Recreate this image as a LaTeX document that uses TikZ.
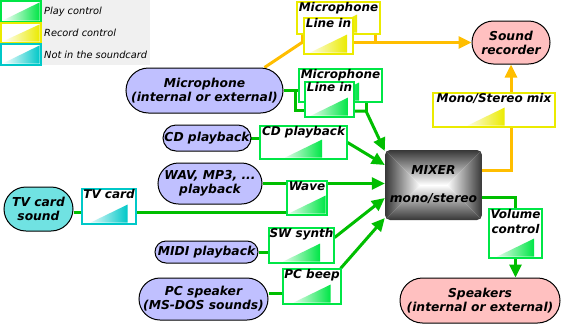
\documentclass[tikz,border=0pt]{standalone}
\usepackage{fontspec}
\setmainfont{DejaVu Sans}
\usetikzlibrary{arrows.meta,fit,calc,shapes.misc,backgrounds}
\definecolor{gline}{RGB}{0,190,0}
\definecolor{oline}{RGB}{255,190,0}
\definecolor{gbox}{RGB}{0,230,70}
\definecolor{ybox}{RGB}{235,235,0}
\definecolor{cbox}{RGB}{0,200,200}
\definecolor{lav}{RGB}{192,192,255}
\definecolor{pinkf}{RGB}{255,192,192}
\definecolor{cyanf}{RGB}{112,226,226}
\definecolor{legbg}{RGB}{240,240,240}
\definecolor{mixdark}{RGB}{55,55,55}
\tikzset{
  gl/.style={line width=3pt, draw=gline},
  ol/.style={line width=3pt, draw=oline},
  arr/.style={-{Triangle[length=13pt,width=12pt]}},
  ctlframe/.style={draw=#1, line width=1.2pt, fill=white, inner sep=0pt},
  ctltext/.style={font=\fontsize{12}{14.5}\selectfont\bfseries\itshape, inner sep=1pt, align=center},
  src/.style={rounded rectangle, draw=black, line width=1pt, fill=#1, inner sep=0pt,
    font=\fontsize{12.3}{14}\selectfont\bfseries\itshape, align=center},
  legtext/.style={font=\fontsize{9.8}{11}\selectfont\itshape, inner sep=1pt}
}
\newcommand\ctrlbox[8]{%
  \node[ctlframe=#2, fit={(#3,#4) (#5,#6)}] (#1) {};
  \shade[left color=#2!12, right color=#2] ([xshift=#8pt-18.5pt, yshift=2pt]#1.south) -- ++(37pt,0pt) -- ++(0pt,18pt) -- cycle;
  \node[ctltext, anchor=north] (#1-t) at (#1.north) {#7};
}
\newcommand\legbox[5]{%
  \node[ctlframe=#2, fit={(1,#3) (41,#4)}] (#1) {};
  \shade[left color=white, right color=#2] ([shift={(2pt,2pt)}]#1.south west) -- ([shift={(-2pt,2pt)}]#1.south east) -- ([shift={(-2pt,-2pt)}]#1.north east) -- cycle;
  \node[legtext, anchor=west] (#1-t) at (43,{(#3+#4)/2}) {#5};
}
\begin{document}
\begin{tikzpicture}[x=1pt,y=-1pt]
\useasboundingbox (0,0) rectangle (565,330);
% legend
\fill[legbg] (0,0) rectangle (150,65);
\legbox{lg1}{gbox}{1}{22}{Play control}
\legbox{lg2}{ybox}{23}{43}{Record control}
\legbox{lg3}{cbox}{44}{65}{Not in the soundcard}

% sources
\node[src=lav, minimum width=157pt, minimum height=45pt] (mic) at (204.5,90.5) {Microphone\\(internal or external)};
\node[src=lav, minimum width=86pt, minimum height=26pt] (cd) at (207,138) {CD playback};
\node[src=lav, minimum width=104pt, minimum height=41pt] (wav) at (210,183.5) {WAV, MP3, ...\\playback};
\node[src=cyanf, minimum width=69pt, minimum height=44pt] (tv) at (38.5,209) {TV card\\sound};
\node[src=lav, minimum width=103pt, minimum height=22pt] (midi) at (206.5,252) {MIDI playback};
\node[src=lav, minimum width=129pt, minimum height=42pt] (pc) at (203.5,299) {PC speaker\\(MS-DOS sounds)};
\node[src=pinkf, minimum width=78pt, minimum height=43pt] (rec) at (511,42.5) {Sound\\recorder};
\node[src=pinkf, minimum width=160pt, minimum height=45pt] (spk) at (480,300.5) {Speakers\\(internal or external)};

% controls
\ctrlbox{recMic}{ybox}{297}{2}{380}{34}{Microphone}{0}
\ctrlbox{recLine}{ybox}{304}{18}{353}{54}{Line in}{0}
\ctrlbox{plMic}{gbox}{299}{69}{382}{102}{Microphone}{0}
\ctrlbox{plLine}{gbox}{305}{82}{354}{117}{Line in}{0}
\ctrlbox{cdc}{gbox}{260}{126}{347}{159}{CD playback}{0}
\ctrlbox{wavc}{gbox}{287}{181}{327}{215}{Wave}{0}
\ctrlbox{tvc}{cbox}{82}{189}{136}{224}{TV card}{0}
\ctrlbox{swc}{gbox}{269}{228}{334}{263}{SW synth}{0}
\ctrlbox{pcb}{gbox}{283}{269}{341}{304}{PC beep}{0}
\ctrlbox{mono}{ybox}{433}{93}{555}{127}{Mono/Stereo mix}{-8}
\ctrlbox{vol}{gbox}{489}{209}{542}{258}{Volume\\control}{0}

% mixer
\begin{scope}
\clip[rounded corners=5pt] (385,150) rectangle (482,220);
\shade[top color=mixdark, bottom color=white] (385,150) -- (482,150) -- (447,185) -- (420,185) -- cycle;
\shade[bottom color=mixdark, top color=white] (385,220) -- (482,220) -- (447,185) -- (420,185) -- cycle;
\shade[left color=mixdark, right color=white] (385,150) -- (420,185) -- (385,220) -- cycle;
\shade[right color=mixdark, left color=white] (482,150) -- (447,185) -- (482,220) -- cycle;
\end{scope}
\node[minimum width=97pt, minimum height=70pt, inner sep=0pt, align=center,
  font=\fontsize{12.3}{14}\selectfont\bfseries\itshape] (mix) at (433.5,185) {MIXER\\[14pt]mono/stereo};

% connectors
\begin{scope}[on background layer]
\coordinate (yj1) at (302,42.5);
\coordinate (yj2) at (375,42.5);
\draw[ol] ([xshift=60pt]mic.north) -- (yj1) -- (recLine.west |- yj1);
\draw[ol] (yj1) -- (yj1 |- recMic.south);
\draw[ol] (yj2) -- (yj2 |- recMic.south);
\draw[ol,arr] (recLine.east |- yj1) -- (rec.west);

\coordinate (gj1) at (295,90.5);
\coordinate (gj2) at (295,110);
\coordinate (gj3) at (366,111);
\draw[gl] (mic.east) -- (plMic.west |- mic.east);
\draw[gl] (gj1) -- (gj2) -- (plLine.west |- gj2);
\draw[gl] (gj3) -- (gj3 |- plMic.south);
\draw[gl,arr] (plLine.east |- gj3) -- (gj3) -- ([yshift=34pt]mix.west);

\draw[gl] (cd.east) -- (cdc.west |- cd.east);
\draw[gl,arr] (cdc.east) -- ([yshift=20pt]mix.west);
\draw[gl] (wav.east) -- (wavc.west |- wav.east);
\draw[gl,arr] (wavc.east |- wav.east) -- (mix.west |- wav.east);
\coordinate (tvy) at (0,212);
\draw[gl] (tv.east |- tvy) -- (tvc.west |- tvy);
\draw[gl] (tvc.east |- tvy) -- (wavc.west |- tvy);
\draw[gl] (midi.east) -- (swc.west |- midi.east);
\draw[gl,arr] ([yshift=8pt]swc.east) -- ([yshift=-13pt]mix.west);
\coordinate (pcy) at (0,293);
\draw[gl] (pc.east |- pcy) -- (pcb.west |- pcy);
\draw[gl,arr] ([xshift=-1pt]pcb.north east) -- ([yshift=-33pt]mix.west);

\draw[ol] ([yshift=15pt]mix.east) -| (rec.south |- mono.south);
\draw[ol,arr] (rec.south |- mono.north) -- (rec.south);
\draw[gl] ([yshift=-12pt]mix.east) -| (vol.north);
\draw[gl,arr] (vol.south) -- (vol.south |- spk.north);
\end{scope}
\end{tikzpicture}
\end{document}
